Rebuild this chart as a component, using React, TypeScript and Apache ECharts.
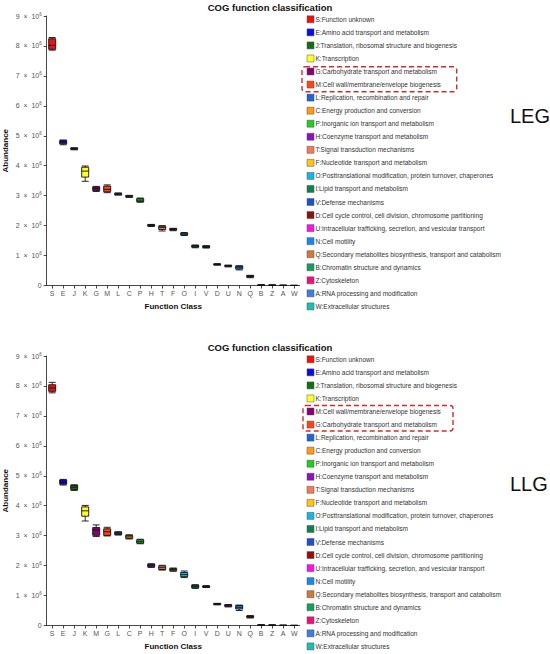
import React, { useEffect, useRef } from "react";
import * as echarts from "echarts";

// Palette in legend row order (colours follow the row / category position)
const cogColors = ["#ee1111","#0a0aee","#127012","#ffff22","#880077","#ff4513","#1e64d4","#ff9a12","#22cc22","#8a12c0","#f47a5a","#ffc412","#12b8e8","#108050","#1e50d0","#901010","#ff12e8","#1888f0","#d07a3a","#12a060","#f0107a","#3a80e0","#18c0b0"];
const cogCodes = ["S","E","J","K","G","M","L","C","P","H","T","F","O","I","V","D","U","N","Q","B","Z","A","W"];
const cogNames = [
  "S:Function unknown",
  "E:Amino acid transport and metabolism",
  "J:Translation, ribosomal structure and biogenesis",
  "K:Transcription",
  "G:Carbohydrate transport and metabolism",
  "M:Cell wall/membrane/envelope biogenesis",
  "L:Replication, recombination and repair",
  "C:Energy production and conversion",
  "P:Inorganic ion transport and metabolism",
  "H:Coenzyme transport and metabolism",
  "T:Signal transduction mechanisms",
  "F:Nucleotide transport and metabolism",
  "O:Posttranslational modification, protein turnover, chaperones",
  "I:Lipid transport and metabolism",
  "V:Defense mechanisms",
  "D:Cell cycle control, cell division, chromosome partitioning",
  "U:Intracellular trafficking, secretion, and vesicular transport",
  "N:Cell motility",
  "Q:Secondary metabolites biosynthesis, transport and catabolism",
  "B:Chromatin structure and dynamics",
  "Z:Cytoskeleton",
  "A:RNA processing and modification",
  "W:Extracellular structures",
];

// y tick values (in units of 10^6)
const yTicks = [0, 1, 2, 3, 4, 5, 6, 7, 8, 9];

// LEG panel: category order and box statistics (x 10^6)
const legCategories = ["S","E","J","K","G","M","L","C","P","H","T","F","O","I","V","D","U","N","Q","B","Z","A","W"];
const legMin = [7.86,4.70,4.53,3.48,3.14,3.10,3.02,2.94,2.78,1.97,1.82,1.83,1.67,1.26,1.25,0.68,0.62,0.52,0.26,0.005,0.004,0.002,0.001];
const legQ1  = [7.89,4.73,4.55,3.62,3.17,3.13,3.03,2.96,2.80,1.99,1.87,1.85,1.69,1.28,1.27,0.69,0.64,0.55,0.28,0.010,0.008,0.004,0.002];
const legMed = [8.02,4.79,4.57,3.82,3.23,3.21,3.05,2.98,2.85,2.01,1.94,1.87,1.72,1.31,1.29,0.70,0.66,0.61,0.30,0.015,0.012,0.006,0.003];
const legQ3  = [8.24,4.84,4.59,3.95,3.29,3.32,3.08,3.00,2.90,2.03,1.98,1.90,1.75,1.34,1.32,0.72,0.67,0.65,0.33,0.020,0.016,0.008,0.004];
const legMax = [8.28,4.86,4.60,3.99,3.31,3.36,3.09,3.01,2.92,2.04,2.00,1.91,1.77,1.35,1.33,0.73,0.68,0.66,0.34,0.025,0.020,0.010,0.005];

// LLG panel
const llgCategories = ["S","E","J","K","M","G","L","C","P","H","T","F","O","I","V","D","U","N","Q","B","Z","A","W"];
const llgMin = [7.77,4.69,4.51,3.49,2.97,2.99,3.02,2.89,2.73,1.94,1.85,1.81,1.60,1.24,1.27,0.69,0.62,0.50,0.25,0.005,0.004,0.002,0.001];
const llgQ1  = [7.82,4.72,4.54,3.65,3.01,3.01,3.04,2.91,2.75,1.96,1.87,1.83,1.63,1.26,1.28,0.70,0.64,0.55,0.27,0.010,0.008,0.004,0.002];
const llgMed = [7.93,4.79,4.62,3.83,3.19,3.13,3.08,2.96,2.80,2.00,1.93,1.87,1.70,1.31,1.30,0.72,0.66,0.61,0.30,0.015,0.012,0.006,0.003];
const llgQ3  = [8.04,4.86,4.68,3.96,3.27,3.23,3.12,3.01,2.86,2.05,1.99,1.90,1.77,1.35,1.32,0.73,0.69,0.67,0.32,0.020,0.016,0.008,0.004];
const llgMax = [8.12,4.88,4.70,4.01,3.36,3.28,3.13,3.03,2.88,2.06,2.01,1.92,1.82,1.36,1.33,0.74,0.70,0.68,0.33,0.025,0.020,0.010,0.005];

const panelLabels = ["LEG", "LLG"];
const titleText = "COG function classification";

const FONT = "'Liberation Sans', Arial, Helvetica, sans-serif";

const nameOf = (code: string) => cogNames[cogCodes.indexOf(code)];

function boxData(cats: string[], mn: number[], q1: number[], md: number[], q3: number[], mx: number[]) {
  return cats.map((c, i) => ({
    name: c,
    value: [mn[i], q1[i], md[i], q3[i], mx[i]],
    itemStyle: { color: cogColors[i], borderColor: "#111", borderWidth: 0.9 },
  }));
}

export default function App() {
  const ref = useRef<HTMLDivElement>(null);
  useEffect(() => {
    if (!ref.current) return;
    const chart = echarts.init(ref.current, undefined, { renderer: "svg" });

    const gridTops = [16, 356];
    const titleTops = [2, 342];
    const legendTops = [19.3, 359.3];
    const rowGap = 13.05;
    const labelYs = [116, 484];
    const boxes = [
      { x: 302, y: 66.7, w: 154.7, h: 25 },
      { x: 303, y: 405.5, w: 150, h: 25.5 },
    ];
    const cats = [legCategories, llgCategories];

    const graphic: any[] = [];
    cats.forEach((list, p) => {
      list.forEach((code, i) => {
        const cy = legendTops[p] + i * rowGap;
        graphic.push({
          type: "rect",
          shape: { x: 307, y: cy - 3.5, width: 7, height: 7 },
          style: { fill: cogColors[i], stroke: "#555", lineWidth: 0.5 },
        });
        graphic.push({
          type: "text",
          x: 315.5,
          y: cy,
          style: {
            text: nameOf(code),
            fontSize: 6.5,
            fontFamily: FONT,
            fill: "#333",
            verticalAlign: "middle",
            align: "left",
          },
        });
      });
      const b = boxes[p];
      graphic.push({
        type: "rect",
        shape: { x: b.x, y: b.y, width: b.w, height: b.h, r: 3 },
        style: { fill: "none", stroke: "#d62a2a", lineWidth: 1.4, lineDash: [5, 3] },
      });
      graphic.push({
        type: "text",
        x: 510,
        y: labelYs[p],
        style: {
          text: panelLabels[p],
          fontSize: 20,
          fontFamily: FONT,
          fill: "#111",
          verticalAlign: "middle",
          align: "left",
        },
      });
    });

    const yAxisBase = (gi: number) => ({
      type: "value",
      gridIndex: gi,
      min: yTicks[0],
      max: yTicks[yTicks.length - 1],
      interval: 1,
      name: "Abundance",
      nameLocation: "middle",
      nameGap: 37,
      nameTextStyle: { fontSize: 8, fontWeight: "bold", color: "#111", fontFamily: FONT },
      axisLine: { show: true, lineStyle: { color: "#333", width: 0.9 } },
      axisTick: { show: true, length: 3, lineStyle: { color: "#333", width: 0.9 } },
      splitLine: { show: false },
      axisLabel: {
        margin: 5,
        color: "#555",
        fontFamily: FONT,
        formatter: (v: number) => (v === 0 ? "{m|0}" : `{m|${v}  ×  10}{s|6}`),
        rich: {
          m: { fontSize: 7, color: "#555", fontFamily: FONT, lineHeight: 9 },
          s: { fontSize: 4.5, color: "#555", fontFamily: FONT, verticalAlign: "top", lineHeight: 9 },
        },
      },
    });

    const xAxisBase = (gi: number) => ({
      type: "category",
      gridIndex: gi,
      data: cats[gi],
      name: "Function Class",
      nameLocation: "middle",
      nameGap: 17,
      nameTextStyle: { fontSize: 8, fontWeight: "bold", color: "#111", fontFamily: FONT },
      axisLine: { show: true, lineStyle: { color: "#333", width: 0.9 } },
      axisTick: { show: true, alignWithLabel: true, length: 3, lineStyle: { color: "#333", width: 0.9 } },
      axisLabel: { fontSize: 7, color: "#555", margin: 4, interval: 0, fontFamily: FONT },
      splitLine: { show: false },
    });

    chart.setOption({
      animation: false,
      backgroundColor: "#ffffff",
      title: [0, 1].map((p) => ({
        text: titleText,
        left: 270,
        top: titleTops[p],
        padding: 0,
        textAlign: "center",
        textStyle: { fontSize: 9.5, fontWeight: "bold", color: "#111", fontFamily: FONT },
      })),
      grid: gridTops.map((t) => ({ left: 46.7, top: t, width: 253, height: 269.5 })),
      xAxis: [xAxisBase(0), xAxisBase(1)],
      yAxis: [yAxisBase(0), yAxisBase(1)],
      series: [
        {
          type: "boxplot",
          xAxisIndex: 0,
          yAxisIndex: 0,
          boxWidth: [7, 7],
          data: boxData(legCategories, legMin, legQ1, legMed, legQ3, legMax),
        },
        {
          type: "boxplot",
          xAxisIndex: 1,
          yAxisIndex: 1,
          boxWidth: [7, 7],
          data: boxData(llgCategories, llgMin, llgQ1, llgMed, llgQ3, llgMax),
        },
      ],
      graphic,
    });

    return () => chart.dispose();
  }, []);

  return (
    <div
      ref={ref}
      style={{ position: "absolute", left: 0, top: 0, width: 550, height: 654, background: "#fff" }}
    />
  );
}
